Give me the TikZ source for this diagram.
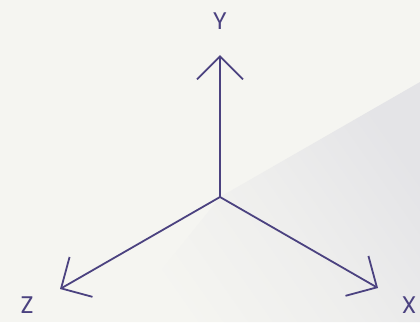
\documentclass[tikz,border=0pt]{standalone}
\usepackage{fontspec}
\setmainfont{Poppins}
\usepackage{tikz}
\usetikzlibrary{arrows.meta,positioning,calc}
\definecolor{paper}{RGB}{245,245,241}
\definecolor{shade}{RGB}{228,228,231}
\definecolor{axispurple}{RGB}{75,66,128}
\tikzset{
    axis/.style={
        draw=axispurple,
        line width=1.8pt,
        -{Straight Barb[length=23pt,width=46pt,line width=1.8pt]}
    },
    axislabel/.style={
        text=axispurple,
        font=\fontsize{24}{24}\selectfont,
        inner sep=0pt
    }
}
\begin{document}
\begin{tikzpicture}[x=1pt,y=-1pt]
% background
\fill[paper] (0,0) rectangle (420,322);
\useasboundingbox (0,0) rectangle (420,322);
\shade[top color=shade, bottom color=paper, middle color=paper!60!shade, shading angle=-55]
    (220,197) -- (420,82) -- (420,322) -- (120,322) -- cycle;

% axes
\coordinate (origin) at (220,197);
\coordinate (ytip) at (220,55);
\coordinate (ztip) at (60,289);
\coordinate (xtip) at (378,288);
\draw[axis] (origin) -- (ytip);
\draw[axis] (origin) -- (ztip);
\draw[axis] (origin) -- (xtip);

% labels
\node[axislabel] (ylabel) at (220,21) {Y};
\node[axislabel] (zlabel) at (27,305) {Z};
\node[axislabel] (xlabel) at (409,305) {X};
\end{tikzpicture}
\end{document}
